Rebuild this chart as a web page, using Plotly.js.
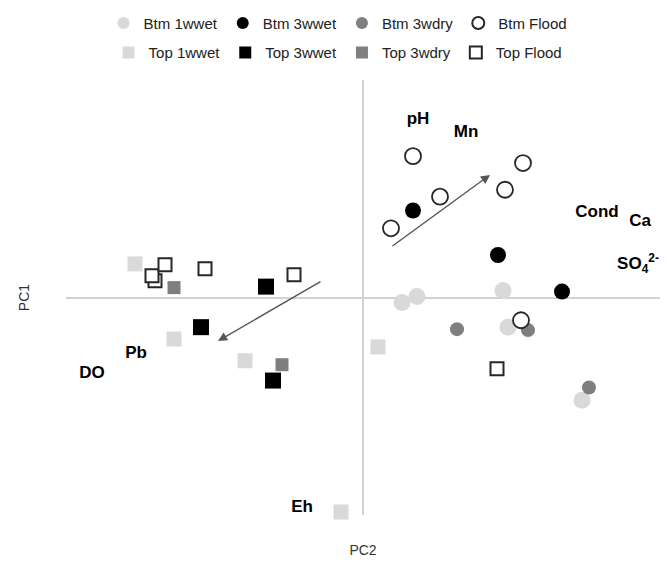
<!DOCTYPE html>
<html>
<head>
<meta charset="utf-8">
<script src="https://cdn.plot.ly/plotly-3.0.1.min.js"></script>
<style>html,body{margin:0;padding:0;background:#fff;}#chart{width:667px;height:566px;}</style>
</head>
<body>
<div id="chart"></div>
<script>
// PCA scores (PC2 on x, PC1 on y)
const btm1wwetX = [0.78, 1.08, 2.80, 2.90, 4.38];
const btm1wwetY = [-0.08, 0.04, 0.16, -0.58, -2.06];
const btm3wwetX = [1.00, 2.70, 3.98];
const btm3wwetY = [1.78, 0.88, 0.14];
const btm3wdryX = [1.88, 3.30, 4.52];
const btm3wdryY = [-0.62, -0.64, -1.80];
const btmFloodX = [1.00, 3.20, 1.54, 2.84, 0.56, 3.16];
const btmFloodY = [2.88, 2.74, 2.06, 2.20, 1.42, -0.44];

const top1wwetX = [-4.56, -3.78, -2.36, 0.30, -0.44];
const top1wwetY = [0.70, -0.82, -1.26, -0.98, -4.32];
const top3wwetX = [-1.94, -3.24, -1.80];
const top3wwetY = [0.24, -0.58, -1.66];
const top3wdryX = [-3.78, -1.62];
const top3wdryY = [0.22, -1.34];
const topFloodX = [-4.16, -4.22, -3.96, -3.16, -1.38, 2.68];
const topFloodY = [0.36, 0.46, 0.68, 0.60, 0.48, -1.42];

// variable labels (loadings)
const varNames = ['pH', 'Mn', 'Cond', 'Ca', 'SO<sub>4</sub><sup>2-</sup>', 'Pb', 'DO', 'Eh'];
const varX = [1.10, 2.06, 4.68, 5.54, 5.50, -4.54, -5.42, -1.22];
const varY = [3.62, 3.36, 1.74, 1.56, 0.68, -1.12, -1.52, -4.24];

// trend arrows: [tailX, tailY, headX, headY]
const btmArrow = [0.56, 1.04, 2.54, 2.50];
const topArrow = [-0.82, 0.36, -2.90, -0.86];

const seriesNames = ['Btm 1wwet', 'Btm 3wwet', 'Btm 3wdry', 'Btm Flood',
                     'Top 1wwet', 'Top 3wwet', 'Top 3wdry', 'Top Flood'];

const LIGHT = '#d9d9d9', DARK = '#7f7f7f', BLACK = '#000000', EDGE = '#262626';

function tr(name, x, y, symbol, color, size, line, legend) {
  return {
    type: 'scatter', mode: 'markers', name: name, x: x, y: y,
    legend: legend, cliponaxis: false,
    marker: { symbol: symbol, color: color, size: size, line: line || { width: 0 } }
  };
}

const data = [
  tr(seriesNames[0], btm1wwetX, btm1wwetY, 'circle', LIGHT, 17, null, 'legend'),
  tr(seriesNames[1], btm3wwetX, btm3wwetY, 'circle', BLACK, 16, null, 'legend'),
  tr(seriesNames[2], btm3wdryX, btm3wdryY, 'circle', DARK, 14, null, 'legend'),
  tr(seriesNames[3], btmFloodX, btmFloodY, 'circle', '#ffffff', 16, { color: EDGE, width: 1.8 }, 'legend'),
  tr(seriesNames[4], top1wwetX, top1wwetY, 'square', LIGHT, 15, null, 'legend2'),
  tr(seriesNames[5], top3wwetX, top3wwetY, 'square', BLACK, 16, null, 'legend2'),
  tr(seriesNames[6], top3wdryX, top3wdryY, 'square', DARK, 13, null, 'legend2'),
  tr(seriesNames[7], topFloodX, topFloodY, 'square', '#ffffff', 13, { color: EDGE, width: 2 }, 'legend2'),
  {
    type: 'scatter', mode: 'text', x: varX, y: varY, text: varNames.map(t => '<b>' + t + '</b>'),
    textposition: 'middle center', showlegend: false, hoverinfo: 'skip', cliponaxis: false,
    textfont: { family: 'Liberation Sans, Arial, sans-serif', size: 17, color: '#000' }
  }
];

function arrow(a) {
  return {
    x: a[2], y: a[3], ax: a[0], ay: a[1], xref: 'x', yref: 'y', axref: 'x', ayref: 'y',
    showarrow: true, arrowhead: 2, arrowsize: 1.3, arrowwidth: 1.4, arrowcolor: '#555', text: ''
  };
}

const legendCommon = {
  orientation: 'h', xanchor: 'center', yanchor: 'top', x: 0.458,
  font: { family: 'Liberation Sans, Arial, sans-serif', size: 15, color: '#222' },
  itemwidth: 30, itemsizing: 'constant', bgcolor: 'rgba(0,0,0,0)', tracegroupgap: 0
};

const layout = {
  width: 667, height: 566,
  margin: { l: 66, r: 7, t: 75, b: 51 },
  paper_bgcolor: '#ffffff', plot_bgcolor: '#ffffff',
  font: { family: 'Liberation Sans, Arial, sans-serif', color: '#333' },
  xaxis: {
    range: [-5.94, 5.94], showgrid: false, showticklabels: false, ticks: '', showline: false,
    zeroline: true, zerolinecolor: '#d2d2d2', zerolinewidth: 2,
    title: { text: 'PC2', font: { size: 14, color: '#333' }, standoff: 30 }
  },
  yaxis: {
    range: [-4.38, 4.42], showgrid: false, showticklabels: false, ticks: '', showline: false,
    zeroline: true, zerolinecolor: '#d2d2d2', zerolinewidth: 2,
    title: { text: 'PC1', font: { size: 14, color: '#333' }, standoff: 32 }
  },
  legend: Object.assign({}, legendCommon, { y: 1.1685 }),
  legend2: Object.assign({}, legendCommon, { y: 1.1005 }),
  annotations: [arrow(btmArrow), arrow(topArrow)],
  showlegend: true
};

Plotly.newPlot('chart', data, layout, { displayModeBar: false, staticPlot: true });
</script>
</body>
</html>
